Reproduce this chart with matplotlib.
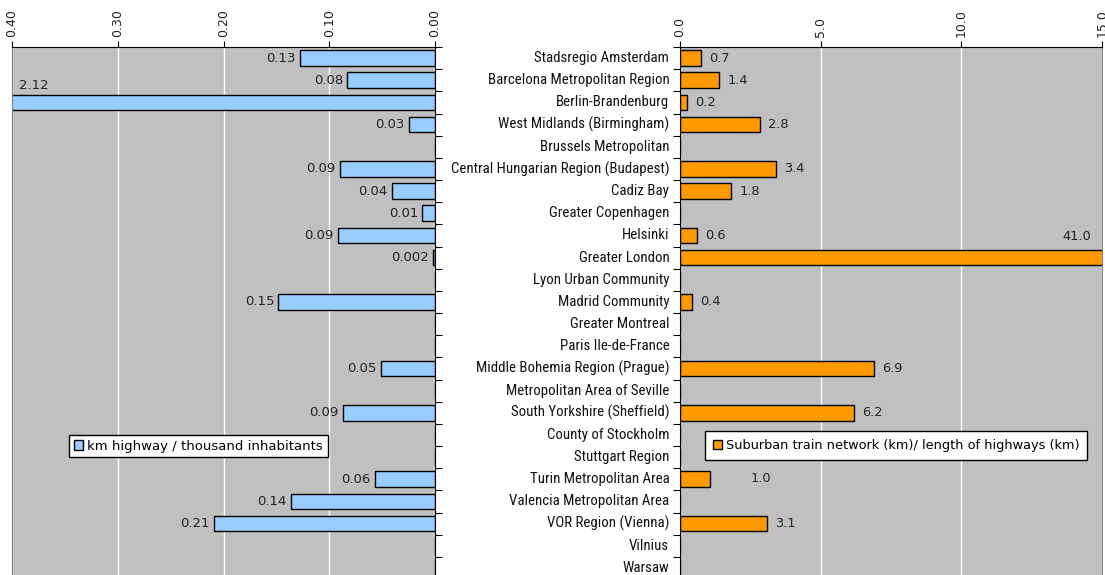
import matplotlib
matplotlib.use("Agg")
import matplotlib.pyplot as plt
import numpy as np

# regions, top to bottom
regions = [
    "Stadsregio Amsterdam", "Barcelona Metropolitan Region", "Berlin-Brandenburg",
    "West Midlands (Birmingham)", "Brussels Metropolitan", "Central Hungarian Region (Budapest)",
    "Cadiz Bay", "Greater Copenhagen", "Helsinki", "Greater London", "Lyon Urban Community",
    "Madrid Community", "Greater Montreal", "Paris Ile-de-France", "Middle Bohemia Region (Prague)",
    "Metropolitan Area of Seville", "South Yorkshire (Sheffield)", "County of Stockholm",
    "Stuttgart Region", "Turin Metropolitan Area", "Valencia Metropolitan Area",
    "VOR Region (Vienna)", "Vilnius", "Warsaw",
]

# km highway / thousand inhabitants (None = no data)
highway = [0.128, 0.083, 2.12, 0.025, None, 0.090, 0.041, 0.012, 0.092, 0.002, None,
           0.148, None, None, 0.051, None, 0.087, None, None, 0.057, 0.136, 0.209, None, None]
highway_lbl = ["0.13", "0.08", "2.12", "0.03", "", "0.09", "0.04", "0.01", "0.09", "0.002", "",
               "0.15", "", "", "0.05", "", "0.09", "", "", "0.06", "0.14", "0.21", "", ""]

# suburban train network (km) / length of highways (km)
train = [0.75, 1.39, 0.25, 2.84, None, 3.41, 1.81, None, 0.6, 41.0, None,
         0.43, None, None, 6.9, None, 6.19, None, None, 1.07, None, 3.09, None, None]
train_lbl = ["0.7", "1.4", "0.2", "2.8", "", "3.4", "1.8", "", "0.6", "41.0", "",
             "0.4", "", "", "6.9", "", "6.2", "", "", "1.0", "", "3.1", "", ""]

W, H = 1105, 575
plt.rcParams['font.family'] = ['DejaVu Sans']
fig = plt.figure(figsize=(W / 100, H / 100), dpi=100)

def px_axes(x0, x1, y0, y1):
    return fig.add_axes([x0 / W, 1 - y1 / H, (x1 - x0) / W, (y1 - y0) / H])

axl = px_axes(12, 435, 47, 579)
axr = px_axes(680, 1102, 47, 579)

n = len(regions)
y = np.arange(n)
txt = '#222222'

for ax in (axl, axr):
    ax.set_facecolor('#C0C0C0')
    ax.set_ylim(n - 0.5, -0.5)
    ax.xaxis.tick_top()
    ax.grid(axis='x', color='white', lw=1)
    ax.set_axisbelow(True)
    for s in ax.spines.values():
        s.set_visible(False)
    ax.spines['top'].set_visible(True)
    ax.tick_params(axis='x', labelrotation=90, labelsize=9, length=4, pad=3, labelcolor=txt)
    ax.set_yticks(np.arange(n + 1) - 0.5)
    ax.set_yticklabels([])
    ax.tick_params(axis='y', length=5)

# left chart (reversed axis)
axl.set_xlim(0.4, 0.0)
axl.set_xticks([0.4, 0.3, 0.2, 0.1, 0.0])
axl.set_xticklabels(["0.40", "0.30", "0.20", "0.10", "0.00"])
axl.yaxis.tick_right()
axl.spines['right'].set_visible(True)
axl.spines['left'].set_visible(True)
axl.spines['left'].set_color('#808080')
hv = [v if v is not None else 0 for v in highway]
axl.barh(y, hv, height=0.7, color='#99CCFF', edgecolor='black', lw=1,
         label='km highway / thousand inhabitants')
for i, (v, t) in enumerate(zip(highway, highway_lbl)):
    if v is None:
        continue
    if v > 0.4:
        axl.text(0.393, i - 0.75, t, ha='left', va='center', fontsize=9.5, color=txt)
    else:
        axl.text(v + 0.004, i, t, ha='right', va='center', fontsize=9.5, color=txt)
axl.legend(loc='upper left', bbox_to_anchor=(0.12, 0.283), fontsize=9.5, frameon=True,
           fancybox=False, edgecolor='black', framealpha=1, handlelength=0.7,
           handleheight=0.7, handletextpad=0.3, borderpad=0.35)

# right chart
axr.set_xlim(0, 15)
axr.set_xticks([0, 5, 10, 15])
axr.set_xticklabels(["0.0", "5.0", "10.0", "15.0"])
axr.spines['left'].set_visible(True)
axr.spines['right'].set_visible(True)
axr.spines['right'].set_color('#808080')
tv = [v if v is not None else 0 for v in train]
axr.barh(y, tv, height=0.7, color='#FF9900', edgecolor='black', lw=1,
         label='Suburban train network (km)/ length of highways (km)')
for i, (v, t) in enumerate(zip(train, train_lbl)):
    if v is None:
        continue
    if v > 15:
        axr.text(14.6, i - 0.95, t, ha='right', va='center', fontsize=9.3, color=txt)
    elif t == "1.0":
        axr.text(v + 1.45, i - 0.05, t, ha='left', va='center', fontsize=9.3, color=txt)
    else:
        axr.text(v + 0.3, i, t, ha='left', va='center', fontsize=9.3, color=txt)
axr.legend(loc='upper left', bbox_to_anchor=(0.045, 0.29), fontsize=9.3, frameon=True,
           fancybox=False, edgecolor='black', framealpha=1, handlelength=0.7,
           handleheight=0.7, handletextpad=0.3, borderpad=0.6)

# region names between the two charts
for i, name in enumerate(regions):
    axr.text(-0.38, i, name, ha='right', va='center', fontsize=10.7,
             family=['Roboto Condensed', 'DejaVu Sans'], color='#111111')

fig.savefig('out.png', dpi=100)
